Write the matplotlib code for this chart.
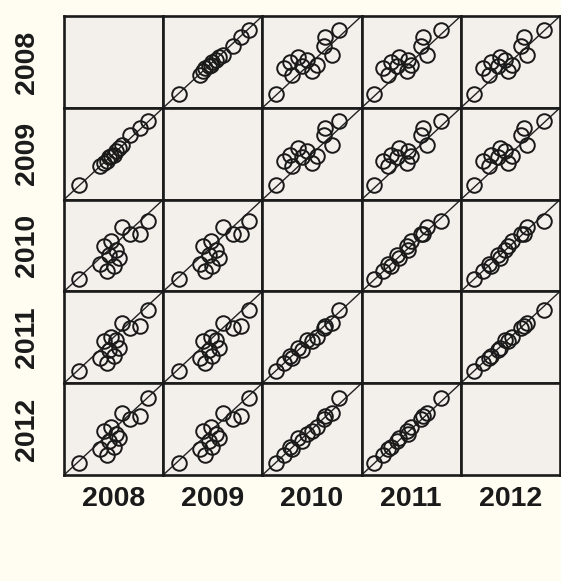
import matplotlib
import matplotlib.pyplot as plt

matplotlib.use("Agg")

years = ["2008", "2009", "2010", "2011", "2012"]

# one value per item and year
v2008 = [0.15, 0.36, 0.40, 0.43, 0.45, 0.47, 0.50, 0.52, 0.55, 0.58, 0.67, 0.77, 0.85]
v2009 = [0.16, 0.37, 0.40, 0.42, 0.46, 0.48, 0.49, 0.53, 0.56, 0.60, 0.70, 0.78, 0.86]
v2010 = [0.14, 0.30, 0.50, 0.22, 0.40, 0.55, 0.28, 0.45, 0.36, 0.70, 0.62, 0.63, 0.77]
v2011 = [0.13, 0.27, 0.46, 0.22, 0.36, 0.50, 0.30, 0.47, 0.38, 0.66, 0.60, 0.62, 0.80]
v2012 = [0.13, 0.28, 0.48, 0.22, 0.37, 0.52, 0.30, 0.45, 0.40, 0.67, 0.61, 0.64, 0.84]
values = [v2008, v2009, v2010, v2011, v2012]

W, H = 561, 581
fig = plt.figure(figsize=(W / 100, H / 100), dpi=100)
fig.patch.set_facecolor("#fffdf2")

left, right, top, bottom = 64, 560, 16, 475
pw = (right - left) / 5
ph = (bottom - top) / 5

for i in range(5):
    for j in range(5):
        ax = fig.add_axes([(left + j * pw) / W, (H - top - (i + 1) * ph) / H, pw / W, ph / H])
        ax.set_facecolor("#f3efeb")
        ax.set_xlim(0, 1)
        ax.set_ylim(0, 1)
        ax.set_xticks([])
        ax.set_yticks([])
        for s in ax.spines.values():
            s.set_linewidth(1.9)
            s.set_color("#1a1a1a")
        if i != j:
            ax.axline((0, 0), slope=1, color="#222222", lw=1.0)
            ax.plot(values[j], values[i], "o", mfc="none", mec="#1a1a1a", ms=10.5, mew=1.4)
    fig.text((left + (i + 0.5) * pw) / W, 1 - 499 / H, years[i], ha="center", va="center",
             fontsize=20.5, fontweight="bold", family="Liberation Sans", color="#1a1a1a")
    fig.text(27 / W, 1 - (top + (i + 0.5) * ph) / H, years[i], ha="center", va="center", rotation=90,
             fontsize=20.5, fontweight="bold", family="Liberation Sans", color="#1a1a1a")

plt.savefig("out.png", dpi=100, facecolor=fig.get_facecolor())
